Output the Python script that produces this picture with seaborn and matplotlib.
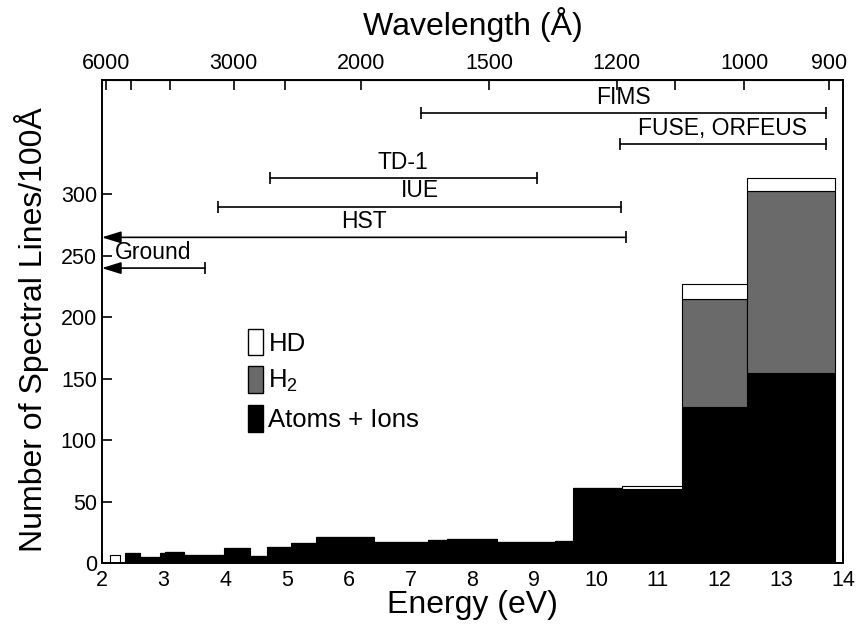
import numpy as np
import pandas as pd
import matplotlib
matplotlib.use("Agg")
import matplotlib.pyplot as plt
from matplotlib.patches import Patch
import seaborn as sns

# bin edges in energy (eV)
edges = [2.13, 2.30, 2.38, 2.62, 2.94, 3.02, 3.33, 3.98, 4.40, 4.67, 5.06,
         5.46, 5.83, 6.41, 7.28, 7.58, 8.39, 9.33, 9.63, 10.42, 11.39, 12.44, 13.87]

# lines per 100 A in each bin
atoms = [0, 0, 8, 5, 8, 9, 7, 12, 6, 13, 16, 21, 21, 17, 19, 20, 17, 18, 61, 60, 127, 155]
h2 = [0, 0, 0, 0, 0, 0, 0, 0, 0, 0, 0, 0, 0, 0, 0, 0, 0, 0, 0, 0, 88, 148]
hd = [7, 0, 0, 0, 0, 0, 0, 0, 0, 0, 0, 0, 0, 0, 0, 0, 0, 0, 0, 3, 12, 10]

# legend order (top of stack first)
kinds = ["HD", "H$_2$", "Atoms + Ions"]
kind_colors = ["white", "#6a6a6a", "black"]

# instrument coverage (eV)
inst_names = ["FIMS", "FUSE, ORFEUS", "TD-1", "IUE", "HST", "Ground"]
inst_lo = [7.17, 10.38, 4.72, 3.88, 2.0, 2.0]
inst_hi = [13.73, 13.73, 9.04, 10.41, 10.49, 3.67]
inst_level = [366, 341, 313, 290, 265, 240]
inst_arrow = [False, False, False, False, True, True]

# top axis
wl_ticks = [6000, 5000, 4000, 3000, 2500, 2000, 1500, 1200, 1100, 1000, 900]
wl_labels = ["6000", "", "", "3000", "", "2000", "1500", "1200", "", "1000", "900"]

HC = 12398.4  # eV * Angstrom

centers = [(a + b) / 2 for a, b in zip(edges[:-1], edges[1:])]
df = pd.DataFrame({
    "energy": centers * 3,
    "count": hd + h2 + atoms,
    "kind": [kinds[0]] * len(hd) + [kinds[1]] * len(h2) + [kinds[2]] * len(atoms),
})

sns.set_style("ticks")
plt.rcParams["font.family"] = ["Liberation Sans", "DejaVu Sans"]
plt.rcParams["mathtext.fontset"] = "custom"
plt.rcParams["mathtext.rm"] = "Liberation Sans"
plt.rcParams["mathtext.it"] = "Liberation Sans:italic"
for key in ["text.color", "axes.labelcolor", "xtick.color", "ytick.color", "axes.edgecolor"]:
    plt.rcParams[key] = "black"

fig = plt.figure(figsize=(8.63, 6.25), dpi=100)
ax = fig.add_axes([0.118, 0.099, 0.859, 0.773])

# seaborn stacks the last hue level at the bottom
sns.histplot(
    data=df, x="energy", weights="count", hue="kind", hue_order=kinds,
    bins=edges, multiple="stack", palette=dict(zip(kinds, kind_colors)),
    alpha=1, edgecolor="black", linewidth=0.8, legend=False, ax=ax,
)

ax.set_xlim(2, 14)
ax.set_ylim(0, 393)
ax.set_xticks(range(2, 15))
ax.set_yticks(range(0, 301, 50))
ax.tick_params(direction="in", length=7, width=1.2, labelsize=15.5, top=False, right=False)
ax.tick_params(axis="x", pad=5)
for s in ax.spines.values():
    s.set_linewidth(1.4)
ax.set_xlabel("Energy (eV)", fontsize=23, labelpad=-1)
ax.set_ylabel("Number of Spectral Lines/100Å", fontsize=23)
ax.yaxis.set_label_coords(-0.071, 0.484)


def e2w(e):
    e = np.asarray(e, dtype=float)
    with np.errstate(divide="ignore", invalid="ignore"):
        return np.where(e > 0, HC / np.where(e > 0, e, 1), np.inf)


top = ax.secondary_xaxis("top", functions=(e2w, e2w))
top.set_xticks(wl_ticks)
top.set_xticklabels(wl_labels)
top.tick_params(direction="in", length=7, width=1.2, labelsize=15.5, pad=4)
top.set_xlabel("Wavelength (Å)", fontsize=23, labelpad=13)

# instrument ranges
for name, lo, hi, lev, arr in zip(inst_names, inst_lo, inst_hi, inst_level, inst_arrow):
    if arr:
        ax.annotate("", xy=(lo, lev), xytext=(hi, lev),
                    arrowprops=dict(arrowstyle="-|>,head_length=0.9,head_width=0.28",
                                    color="black", lw=1.2, shrinkA=0, shrinkB=0,
                                    mutation_scale=13))
        ax.plot([hi], [lev], marker="|", ms=9, mew=1.2, color="black")
    else:
        ax.plot([lo, hi], [lev, lev], color="black", lw=1.2,
                marker="|", ms=9, mew=1.2)
    ax.annotate(name, xy=((lo + hi) / 2, lev), xytext=(0, 3),
                textcoords="offset points", ha="center", va="bottom", fontsize=16.5)

handles = [Patch(facecolor=c, edgecolor="black", linewidth=1.0) for c in kind_colors]
ax.legend(handles, kinds, loc="upper left", bbox_to_anchor=(0.197, 0.485),
          frameon=False, fontsize=18.5, handlelength=0.6, handleheight=1.2,
          handletextpad=0.2, labelspacing=0.42, borderaxespad=0, borderpad=0)

fig.savefig("out.png", dpi=100)
